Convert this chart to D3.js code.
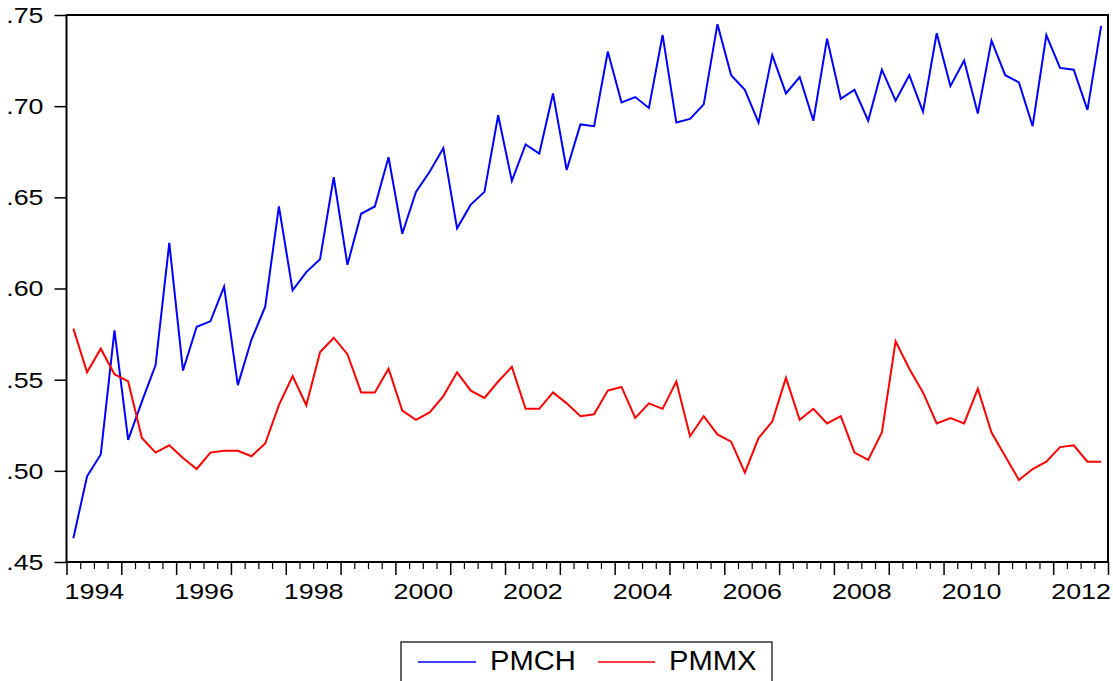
<!DOCTYPE html>
<html>
<head>
<meta charset="utf-8">
<script src="https://cdn.jsdelivr.net/npm/d3@7"></script>
<style>
  html, body { margin: 0; padding: 0; background: #fff; }
  svg { display: block; }
  text { font-family: "Liberation Sans", Arial, sans-serif; fill: #000; }
</style>
</head>
<body>
<svg id="chart" width="1113" height="681"></svg>
<script>
// ---- Data ----
const years = [1994,1995,1996,1997,1998,1999,2000,2001,2002,2003,2004,2005,2006,2007,2008,2009,2010,2011,2012];
const quarterNames = ["Q1","Q2","Q3","Q4"];
const periods = years.flatMap(y => quarterNames.map(q => y + q));

const pmch = [
  0.463,0.497,0.509,0.577,
  0.517,0.538,0.558,0.625,
  0.555,0.579,0.582,0.601,
  0.547,0.572,0.590,0.645,
  0.599,0.609,0.616,0.661,
  0.613,0.641,0.645,0.672,
  0.630,0.653,0.664,0.677,
  0.633,0.646,0.653,0.695,
  0.659,0.679,0.674,0.707,
  0.665,0.690,0.689,0.730,
  0.702,0.705,0.699,0.739,
  0.691,0.693,0.701,0.745,
  0.717,0.709,0.691,0.728,
  0.707,0.716,0.692,0.737,
  0.704,0.709,0.692,0.720,
  0.703,0.717,0.697,0.740,
  0.711,0.725,0.696,0.736,
  0.717,0.713,0.689,0.739,
  0.721,0.720,0.698,0.744
];
const pmmx = [
  0.578,0.554,0.567,0.553,
  0.549,0.518,0.510,0.514,
  0.507,0.501,0.510,0.511,
  0.511,0.508,0.515,0.536,
  0.552,0.536,0.565,0.573,
  0.564,0.543,0.543,0.556,
  0.533,0.528,0.532,0.541,
  0.554,0.544,0.540,0.549,
  0.557,0.534,0.534,0.543,
  0.537,0.530,0.531,0.544,
  0.546,0.529,0.537,0.534,
  0.549,0.519,0.530,0.520,
  0.516,0.499,0.518,0.527,
  0.551,0.528,0.534,0.526,
  0.530,0.510,0.506,0.521,
  0.571,0.556,0.543,0.526,
  0.529,0.526,0.545,0.521,
  0.508,0.495,0.501,0.505,
  0.513,0.514,0.505,0.505
];
const seriesNames = ["PMCH","PMMX"];
const seriesColors = ["#0000FF","#FF0000"];
const yTickValues = [0.45,0.50,0.55,0.60,0.65,0.70,0.75];
const yTickLabels = [".45",".50",".55",".60",".65",".70",".75"];
const xLabelYears = [1994,1996,1998,2000,2002,2004,2006,2008,2010,2012];
const xTickLabels = ["1994","1996","1998","2000","2002","2004","2006","2008","2010","2012"];

// ---- Layout ----
const svg = d3.select("#chart");
const L = 66.5, R = 1108, T = 15, B = 562;
const stretch = 1.22;

const x = d3.scaleLinear().domain([years[0], years[years.length-1] + 1]).range([L, R]);
const y = d3.scaleLinear().domain([0.45, 0.75]).range([B, T]);
const periodTime = i => years[0] + Math.floor(i/4) + (i % 4) / 4 + 0.125;

// Y axis
const yAxis = svg.append("g")
  .attr("transform", `translate(${L},0)`)
  .call(d3.axisLeft(y).tickValues(yTickValues).tickSize(12)
        .tickFormat((d,i) => yTickLabels[i]));
yAxis.select(".domain").remove();
yAxis.selectAll(".tick line").attr("stroke", "#000").attr("stroke-width", 1.5);
yAxis.selectAll(".tick text")
  .attr("x", 0).attr("dy", "0.34em")
  .attr("font-size", 22)
  .attr("font-family", "Liberation Sans, Arial, sans-serif")
  .attr("text-anchor", "end")
  .attr("transform", `translate(-23,0) scale(${stretch},1)`);

// X axis: quarter minor ticks, year major ticks
const quarterTicks = d3.range(0, years.length * 4 + 1).map(k => years[0] + k / 4).filter(t => t % 1 !== 0);
const yearTicks = years.concat([years[years.length-1] + 1]);
const xMinor = svg.append("g").attr("transform", `translate(0,${B})`)
  .call(d3.axisBottom(x).tickValues(quarterTicks).tickSize(7).tickFormat(""));
xMinor.select(".domain").remove();
xMinor.selectAll(".tick line").attr("stroke", "#000").attr("stroke-width", 1.2);
const xMajor = svg.append("g").attr("transform", `translate(0,${B})`)
  .call(d3.axisBottom(x).tickValues(yearTicks).tickSize(13).tickFormat(""));
xMajor.select(".domain").remove();
xMajor.selectAll(".tick line").attr("stroke", "#000").attr("stroke-width", 1.5);

// X labels (centered within even years)
const xLab = svg.append("g").attr("transform", `translate(0,${B})`)
  .call(d3.axisBottom(x).tickValues(xLabelYears.map(v => v + 0.5)).tickSize(0)
        .tickFormat((d,i) => xTickLabels[i]));
xLab.select(".domain").remove();
xLab.selectAll(".tick text")
  .attr("y", 0).attr("dy", 0)
  .attr("font-size", 22)
  .attr("font-family", "Liberation Sans, Arial, sans-serif")
  .attr("transform", `translate(0,37) scale(${stretch},1)`);

// Lines
const line = d3.line().x((d,i) => x(periodTime(i))).y(d => y(d));
[pmch, pmmx].forEach((s, k) => {
  svg.append("path").datum(s)
    .attr("fill", "none")
    .attr("stroke", seriesColors[k])
    .attr("stroke-width", 2)
    .attr("stroke-linejoin", "miter")
    .attr("d", line);
});

// Frame
svg.append("rect")
  .attr("x", L).attr("y", T).attr("width", R - L).attr("height", B - T)
  .attr("fill", "none").attr("stroke", "#000").attr("stroke-width", 2);

// Legend
const lg = svg.append("g");
lg.append("rect").attr("x", 401).attr("y", 642).attr("width", 371).attr("height", 60)
  .attr("fill", "#fff").attr("stroke", "#333").attr("stroke-width", 1.5);
const legendItems = [
  {x0: 418, x1: 476, tx: 490},
  {x0: 598, x1: 655, tx: 669}
];
legendItems.forEach((it, k) => {
  lg.append("line").attr("x1", it.x0).attr("x2", it.x1).attr("y1", 662).attr("y2", 662)
    .attr("stroke", seriesColors[k]).attr("stroke-width", 1.5);
  lg.append("text").text(seriesNames[k])
    .attr("font-size", 27)
    .attr("transform", `translate(${it.tx},670) scale(1.08,1)`);
});
</script>
</body>
</html>
